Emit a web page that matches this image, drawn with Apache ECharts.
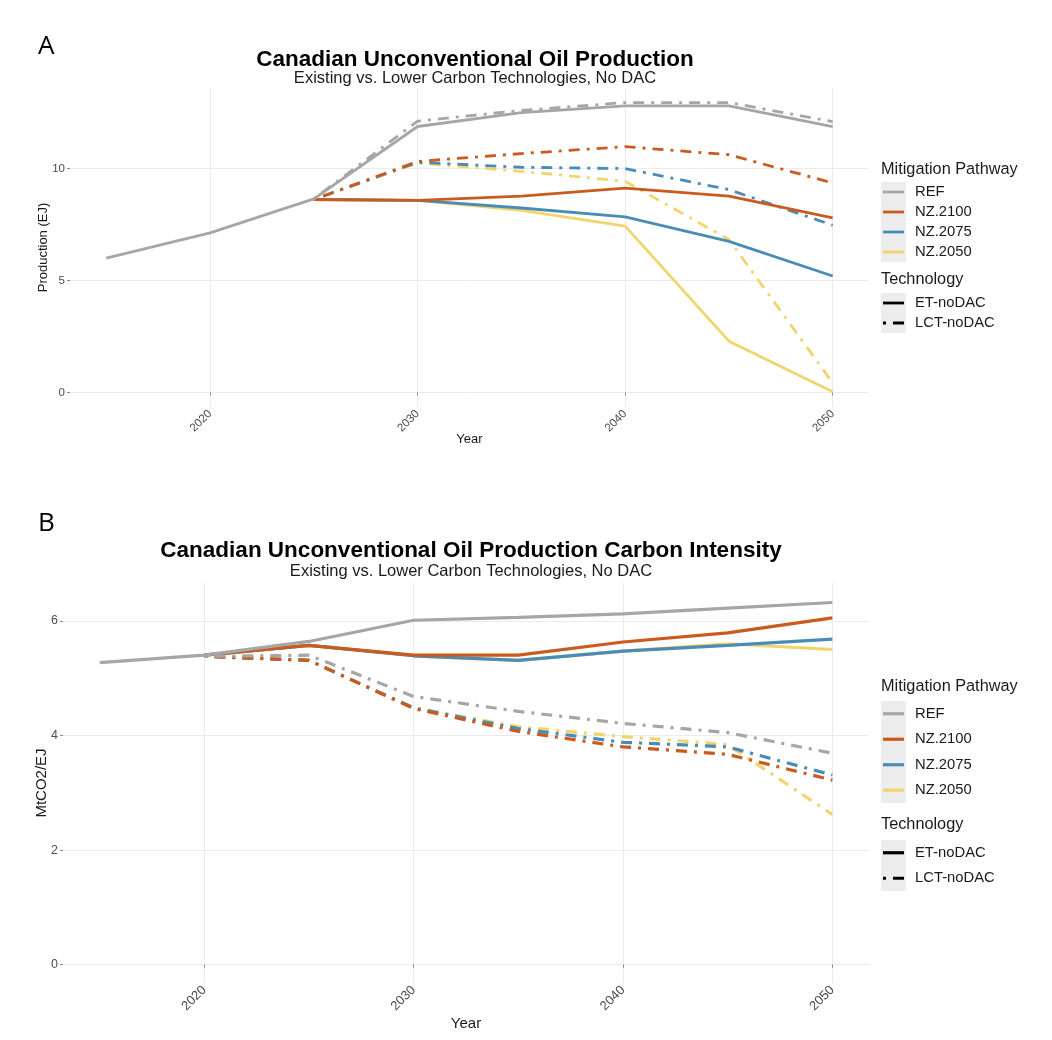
<!DOCTYPE html>
<html>
<head>
<meta charset="utf-8">
<title>Canadian Unconventional Oil Production</title>
<script src="https://cdn.jsdelivr.net/npm/echarts@6/dist/echarts.min.js"></script>
<style>
html, body { margin: 0; padding: 0; background: #fff; }
#main { width: 1052px; height: 1040px; }
</style>
</head>
<body>
<div id="main"></div>
<script>
var years = [2015, 2020, 2025, 2030, 2035, 2040, 2045, 2050];
var pathways = ['REF', 'NZ.2100', 'NZ.2075', 'NZ.2050'];
var technologies = ['ET-noDAC', 'LCT-noDAC'];
var yearTicks = [2020, 2030, 2040, 2050];
var prodTicks = [0, 5, 10];
var intensityTicks = [0, 2, 4, 6];

// A - production (EJ)
var prodRefET   = [6.0, 7.13, 8.65, 11.88, 12.5, 12.8, 12.8, 11.88];
var prodRefLCT  = [null, null, 8.65, 12.12, 12.6, 12.95, 12.95, 12.1];
var prod2100ET  = [null, null, 8.62, 8.58, 8.77, 9.13, 8.77, 7.8];
var prod2100LCT = [null, null, 8.62, 10.32, 10.67, 10.98, 10.62, 9.36];
var prod2075ET  = [null, null, 8.62, 8.58, 8.24, 7.84, 6.75, 5.2];
var prod2075LCT = [null, null, 8.62, 10.28, 10.06, 10.0, 9.06, 7.47];
var prod2050ET  = [null, null, 8.62, 8.58, 8.13, 7.43, 2.29, 0.03];
var prod2050LCT = [null, null, 8.62, 10.25, 9.88, 9.43, 6.83, 0.43];

// B - carbon intensity (MtCO2/EJ)
var intRefET   = [5.27, 5.40, 5.64, 6.01, 6.06, 6.12, 6.22, 6.32];
var intRefLCT  = [null, 5.38, 5.40, 4.68, 4.42, 4.21, 4.05, 3.69];
var int2100ET  = [null, 5.40, 5.57, 5.40, 5.40, 5.63, 5.79, 6.05];
var int2100LCT = [null, 5.38, 5.31, 4.47, 4.07, 3.80, 3.67, 3.22];
var int2075ET  = [null, 5.40, 5.57, 5.39, 5.31, 5.47, 5.57, 5.68];
var int2075LCT = [null, 5.38, 5.31, 4.48, 4.12, 3.88, 3.80, 3.31];
var int2050ET  = [null, 5.40, 5.57, 5.39, 5.31, 5.47, 5.60, 5.50];
var int2050LCT = [null, 5.38, 5.31, 4.48, 4.15, 3.98, 3.84, 2.62];

var colors = ['#a6a6a6', '#c95b1f', '#4a8cb6', '#f1d56c'];
var dotdash = [3, 7, 11, 7];
var font = '"Liberation Sans", Arial, sans-serif';

function pairs(vals) {
    var out = [];
    for (var i = 0; i < years.length; i++) {
        if (vals[i] != null) out.push([years[i], vals[i]]);
    }
    return out;
}

function makeSeries(idx, name, tech, vals, colorIdx, width) {
    return {
        name: name + ' ' + tech,
        type: 'line',
        xAxisIndex: idx,
        yAxisIndex: idx,
        symbol: 'none',
        silent: true,
        animation: false,
        data: pairs(vals),
        lineStyle: {
            color: colors[colorIdx],
            width: width,
            cap: 'butt',
            type: tech == 'LCT-noDAC' ? dotdash : 'solid'
        }
    };
}

// drawn last-to-first so REF sits on top, NZ.2100 over NZ.2075 over NZ.2050
var series = [
    makeSeries(0, 'NZ.2050', 'ET-noDAC', prod2050ET, 3, 2.8),
    makeSeries(0, 'NZ.2050', 'LCT-noDAC', prod2050LCT, 3, 2.8),
    makeSeries(0, 'NZ.2075', 'ET-noDAC', prod2075ET, 2, 2.8),
    makeSeries(0, 'NZ.2075', 'LCT-noDAC', prod2075LCT, 2, 2.8),
    makeSeries(0, 'NZ.2100', 'ET-noDAC', prod2100ET, 1, 2.8),
    makeSeries(0, 'NZ.2100', 'LCT-noDAC', prod2100LCT, 1, 2.8),
    makeSeries(0, 'REF', 'ET-noDAC', prodRefET, 0, 2.8),
    makeSeries(0, 'REF', 'LCT-noDAC', prodRefLCT, 0, 2.8),

    makeSeries(1, 'NZ.2050', 'ET-noDAC', int2050ET, 3, 3.2),
    makeSeries(1, 'NZ.2050', 'LCT-noDAC', int2050LCT, 3, 3.2),
    makeSeries(1, 'NZ.2075', 'ET-noDAC', int2075ET, 2, 3.2),
    makeSeries(1, 'NZ.2075', 'LCT-noDAC', int2075LCT, 2, 3.2),
    makeSeries(1, 'NZ.2100', 'ET-noDAC', int2100ET, 1, 3.2),
    makeSeries(1, 'NZ.2100', 'LCT-noDAC', int2100LCT, 1, 3.2),
    makeSeries(1, 'REF', 'ET-noDAC', intRefET, 0, 3.2),
    makeSeries(1, 'REF', 'LCT-noDAC', intRefLCT, 0, 3.2)
];

function xAxis(idx, fs, nameFs, gap) {
    return {
        gridIndex: idx,
        type: 'value',
        min: 2013.25,
        max: 2051.75,
        name: 'Year',
        nameLocation: 'middle',
        nameGap: gap,
        nameMoveOverlap: false,
        nameTextStyle: { fontFamily: font, fontSize: nameFs, color: '#1a1a1a' },
        axisLine: { show: false },
        axisTick: { show: true, length: 3, customValues: yearTicks, lineStyle: { color: '#8a8a8a' } },
        axisLabel: {
            customValues: yearTicks, rotate: 45, margin: 5,
            fontFamily: font, fontSize: fs, color: '#4d4d4d',
            formatter: function (v) { return String(v); }
        },
        splitLine: { show: true, lineStyle: { color: '#ebebeb', width: 1 } }
    };
}

function yAxis(idx, name, min, max, ticks, fs, nameFs, gap) {
    return {
        gridIndex: idx,
        type: 'value',
        min: min,
        max: max,
        name: name,
        nameLocation: 'middle',
        nameGap: gap,
        nameMoveOverlap: false,
        nameTextStyle: { fontFamily: font, fontSize: nameFs, color: '#1a1a1a' },
        axisLine: { show: false },
        axisTick: { show: true, length: 3, customValues: ticks, lineStyle: { color: '#8a8a8a' } },
        axisLabel: { customValues: ticks, margin: 5, fontFamily: font, fontSize: fs, color: '#4d4d4d' },
        splitLine: { show: true, lineStyle: { color: '#ebebeb', width: 1 } }
    };
}

// ggplot style legends
function legendBlock(L) {
    var els = [];
    var tf = L.titleFs + 'px ' + font, lf = L.fs + 'px ' + font;
    els.push({ type: 'text', x: L.x, y: L.titleY, style: { text: 'Mitigation Pathway', font: tf, fill: '#1a1a1a', verticalAlign: 'middle' } });
    els.push({ type: 'rect', shape: { x: L.x, y: L.keysY, width: 25, height: L.rowH * pathways.length }, style: { fill: '#ededed' } });
    for (var i = 0; i < pathways.length; i++) {
        var cy = L.keysY + L.rowH * (i + 0.5);
        els.push({ type: 'line', shape: { x1: L.x + 2, y1: cy, x2: L.x + 23, y2: cy }, style: { stroke: colors[i], lineWidth: L.lw } });
        els.push({ type: 'text', x: L.x + 34, y: cy, style: { text: pathways[i], font: lf, fill: '#1a1a1a', verticalAlign: 'middle' } });
    }
    els.push({ type: 'text', x: L.x, y: L.techTitleY, style: { text: 'Technology', font: tf, fill: '#1a1a1a', verticalAlign: 'middle' } });
    els.push({ type: 'rect', shape: { x: L.x, y: L.techKeysY, width: 25, height: L.rowH * technologies.length }, style: { fill: '#ededed' } });
    for (var j = 0; j < technologies.length; j++) {
        var ty = L.techKeysY + L.rowH * (j + 0.5);
        els.push({ type: 'line', shape: { x1: L.x + 2, y1: ty, x2: L.x + 23, y2: ty }, style: { stroke: '#000', lineWidth: L.lw, lineCap: 'butt', lineDash: j == 1 ? dotdash : null } });
        els.push({ type: 'text', x: L.x + 34, y: ty, style: { text: technologies[j], font: lf, fill: '#1a1a1a', verticalAlign: 'middle' } });
    }
    return els;
}

var graphics = []
    .concat(legendBlock({ x: 881, titleY: 170, keysY: 182, rowH: 20, techTitleY: 280, techKeysY: 293, titleFs: 16.3, fs: 14.8, lw: 2.8 }))
    .concat(legendBlock({ x: 881, titleY: 687, keysY: 701, rowH: 25.5, techTitleY: 825, techKeysY: 840, titleFs: 16.3, fs: 14.8, lw: 3.2 }));

var titleStyle = { fontFamily: font, fontSize: 22.5, fontWeight: 'bold', color: '#000' };
var subStyle = { fontFamily: font, fontSize: 16.5, fontWeight: 'normal', color: '#1a1a1a' };
var panelLabel = { fontFamily: '"Open Sans", sans-serif', fontSize: 26, fontWeight: 'normal', color: '#000' };

var option = {
    backgroundColor: '#fff',
    animation: false,
    title: [
        { text: 'A', left: 33, top: 29, textStyle: panelLabel },
        { text: 'Canadian Unconventional Oil Production', left: 470, top: 43.5, textAlign: 'center', textStyle: titleStyle },
        { text: 'Existing vs. Lower Carbon Technologies, No DAC', left: 470, top: 64.5, textAlign: 'center', textStyle: subStyle },
        { text: 'B', left: 33, top: 506, textStyle: panelLabel },
        { text: 'Canadian Unconventional Oil Production Carbon Intensity', left: 466, top: 534, textAlign: 'center', textStyle: titleStyle },
        { text: 'Existing vs. Lower Carbon Technologies, No DAC', left: 466, top: 557.5, textAlign: 'center', textStyle: subStyle }
    ],
    grid: [
        { left: 70, right: 183, top: 88, height: 319 },
        { left: 63, right: 183, top: 583, height: 400 }
    ],
    xAxis: [xAxis(0, 11.5, 13, 26), xAxis(1, 13, 15, 33)],
    yAxis: [
        yAxis(0, 'Production (EJ)', -0.65, 13.6, prodTicks, 11.5, 13, 20),
        yAxis(1, 'MtCO2/EJ', -0.32, 6.66, intensityTicks, 12.5, 15, 14)
    ],
    series: series,
    graphic: graphics
};

var chart = echarts.init(document.getElementById('main'));
chart.setOption(option);
</script>
</body>
</html>
